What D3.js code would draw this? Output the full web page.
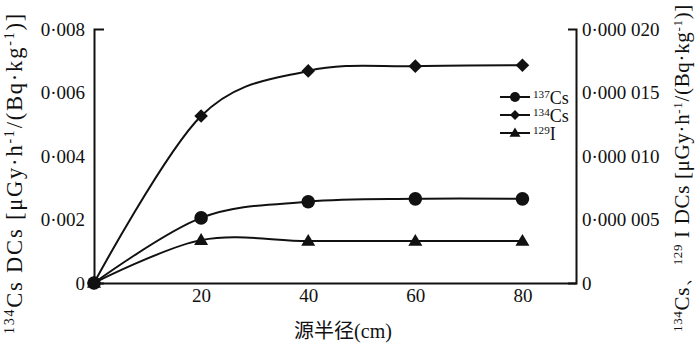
<!DOCTYPE html>
<html>
<head>
<meta charset="utf-8">
<script src="https://cdn.jsdelivr.net/npm/d3@7"></script>
<style>
  body { margin: 0; background: #fff; }
  svg { font-family: "Liberation Serif", "Times New Roman", serif; }
  .axis path, .axis line { stroke: #111; stroke-width: 2; }
  .axis text { font-size: 19px; fill: #111; font-family: "Liberation Serif", serif; }
  .line { fill: none; stroke: #111; stroke-width: 2; }
</style>
</head>
<body>
<script>
// data
var radius = [0, 20, 40, 60, 80];
var cs137 = [0, 0.00205, 0.00256, 0.00265, 0.00265];
var cs134 = [0, 0.00526, 0.00668, 0.00683, 0.00686];
var i129 = [0, 0.00135, 0.00132, 0.00132, 0.00132];
var xTicks = [20, 40, 60, 80];
var leftTicks = [0, 0.002, 0.004, 0.006, 0.008];
var leftLabels = ["0", "0·002", "0·004", "0·006", "0·008"];
var rightTicks = [0, 0.000005, 0.00001, 0.000015, 0.00002];
var rightLabels = ["0", "0·000 005", "0·000 010", "0·000 015", "0·000 020"];

var svgWidth = 700;
var svgHeight = 350;
var margin = { top: 29, right: 124, bottom: 67, left: 94 };
var width = svgWidth - margin.left - margin.right;
var height = svgHeight - margin.top - margin.bottom;

var svg = d3.select("body").append("svg")
  .attr("width", svgWidth)
  .attr("height", svgHeight);

var chartGroup = svg.append("g")
  .attr("transform", `translate(${margin.left}, ${margin.top})`);

var x = d3.scaleLinear().domain([0, 90]).range([0, width]);
var yLeft = d3.scaleLinear().domain([0, 0.008]).range([height, 0]);
var yRight = d3.scaleLinear().domain([0, 0.00002]).range([height, 0]);

// axes
chartGroup.append("g")
  .classed("axis", true)
  .attr("transform", `translate(0, ${height})`)
  .call(d3.axisBottom(x).tickValues(xTicks).tickSize(0).tickSizeOuter(0).tickPadding(6));

chartGroup.append("g")
  .classed("axis", true)
  .call(d3.axisLeft(yLeft).tickValues(leftTicks).tickSizeInner(0).tickSizeOuter(-10).tickPadding(9)
    .tickFormat((d, i) => leftLabels[i]));

chartGroup.append("g")
  .classed("axis", true)
  .attr("transform", `translate(${width}, 0)`)
  .call(d3.axisRight(yRight).tickValues(rightTicks).tickSizeInner(0).tickSizeOuter(-8).tickPadding(6)
    .tickFormat((d, i) => rightLabels[i]));

// text with superscripts
function rich(sel, parts, size) {
  sel.selectAll("tspan").remove();
  parts.forEach(function(p) {
    if (p[1]) {
      sel.append("tspan").attr("font-size", size * 0.62).attr("dy", -size * 0.34).text(p[0]);
    } else {
      sel.append("tspan").attr("font-size", size).attr("dy", p[2] ? size * 0.34 : 0).text(p[0]);
    }
  });
}

// draw the text, then open up the letter spacing so it spans the wanted length
function fitRich(sel, parts, size, target) {
  rich(sel, parts, size);
  var len = sel.node().getComputedTextLength();
  var n = parts.map(p => p[0]).join("").length;
  sel.attr("letter-spacing", Math.max(0, (target - len) / n));
}

// lines
var series = [
  { name: "137", values: cs137, shape: "circle" },
  { name: "134", values: cs134, shape: "diamond" },
  { name: "129", values: i129, shape: "triangle" }
];

var line = d3.line()
  .x(d => x(d[0]))
  .y(d => yLeft(d[1]))
  .curve(d3.curveCardinal.tension(0));

function marker(g, shape, cx, cy, s) {
  if (shape === "circle") {
    g.append("circle").attr("cx", cx).attr("cy", cy).attr("r", s).attr("fill", "#111");
  } else if (shape === "diamond") {
    g.append("path").attr("d", `M${cx},${cy - s}L${cx + s},${cy}L${cx},${cy + s}L${cx - s},${cy}Z`).attr("fill", "#111");
  } else {
    var h = s * 1.7;
    g.append("path").attr("d", `M${cx},${cy - h * 0.6}L${cx + s},${cy + h * 0.4}L${cx - s},${cy + h * 0.4}Z`).attr("fill", "#111");
  }
}

series.forEach(function(s) {
  var pts = radius.map((r, i) => [r, s.values[i]]);
  chartGroup.append("path")
    .datum(pts)
    .classed("line", true)
    .attr("d", line);
  pts.forEach(function(p) {
    marker(chartGroup, s.shape, x(p[0]), yLeft(p[1]), s.shape === "triangle" ? 7 : 6.8);
  });
});

// legend
var legend = svg.append("g").attr("transform", "translate(500, 97)");
var legendNames = [["137", "Cs"], ["134", "Cs"], ["129", "I"]];
series.forEach(function(s, i) {
  var g = legend.append("g").attr("transform", `translate(0, ${i * 18})`);
  g.append("line").attr("x1", 0).attr("x2", 30).attr("y1", 0).attr("y2", 0)
    .attr("stroke", "#111").attr("stroke-width", 2);
  marker(g, s.shape, 15, 0, s.shape === "triangle" ? 5.5 : 5);
  var t = g.append("text").attr("x", 33).attr("y", 7).attr("fill", "#111");
  rich(t, [[legendNames[i][0], true], [legendNames[i][1], false, true]], 18);
});

// axis titles
var lt = svg.append("text")
  .attr("transform", "translate(22, 173) rotate(-90)")
  .attr("text-anchor", "middle")
  .attr("fill", "#111");
fitRich(lt, [["134", true], ["Cs DCs [μGy·h", false, true], ["-1", true], ["/(Bq·kg", false, true], ["-1", true], [")]", false, true]], 22.5, 322);

var rt = svg.append("text")
  .attr("transform", "translate(689, 168) rotate(-90)")
  .attr("text-anchor", "middle")
  .attr("fill", "#111");
fitRich(rt, [["134", true], ["Cs、", false, true], ["129", true], [" I DCs [μGy·h", false, true], ["-1", true], ["/(Bq·kg", false, true], ["-1", true], [")]", false, true]], 21, 328);

var xt = svg.append("text")
  .attr("x", 343)
  .attr("y", 338)
  .attr("text-anchor", "middle")
  .attr("fill", "#111")
  .attr("font-size", 20);
xt.append("tspan").attr("font-family", "Noto Sans CJK SC").text("源半径");
xt.append("tspan").text("(cm)");
</script>
</body>
</html>
